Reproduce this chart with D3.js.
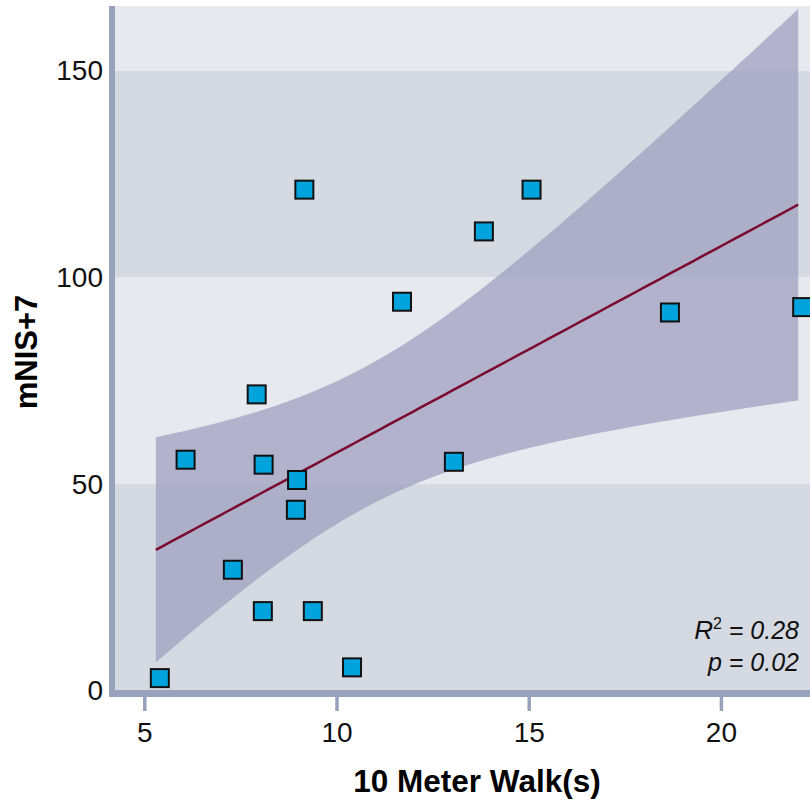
<!DOCTYPE html>
<html>
<head>
<meta charset="utf-8">
<script src="https://cdn.jsdelivr.net/npm/d3@7"></script>
<style>
  body { margin: 0; background: #fff; }
  text { font-family: "Liberation Sans", Arial, sans-serif; }
</style>
</head>
<body>
<div id="chart"></div>
<script>
// 10 meter walk time (s) vs mNIS+7
const walkTimes = [5.30, 5.97, 7.20, 7.82, 8.00, 7.98, 9.06, 8.87, 8.84, 9.28, 10.30, 11.60, 12.95, 13.73, 14.97, 18.57, 22.01];
const mnisScores = [3.1, 55.9, 29.3, 71.7, 54.7, 19.3, 121.2, 51.0, 43.8, 19.3, 5.7, 94.1, 55.4, 111.1, 121.2, 91.5, 92.8];
const xTicks = [5, 10, 15, 20];
const yTicks = [0, 50, 100, 150];
const statLines = ["R", "p = 0.02"];
const T_CRIT = 2.131; // t(0.975, df = 15)

const width = 810, height = 801;
const panel = { left: 112, right: 842, top: 6, bottom: 693 };
const axisColor = "#97a2bc";

const svg = d3.select("#chart").append("svg")
    .attr("width", width)
    .attr("height", height);

const x = d3.scaleLinear().domain([4.16, 23.15]).range([panel.left, panel.right]);
const y = d3.scaleLinear().domain([-0.5, 165.6]).range([panel.bottom, panel.top]);

svg.append("clipPath").attr("id", "clip")
    .append("rect")
    .attr("x", panel.left).attr("y", panel.top)
    .attr("width", panel.right - panel.left)
    .attr("height", panel.bottom - panel.top);

const plot = svg.append("g").attr("clip-path", "url(#clip)");

// alternating horizontal bands
const bandEdges = [y.domain()[0], ...yTicks.slice(1), y.domain()[1]];
plot.selectAll(".band")
    .data(d3.pairs(bandEdges))
    .enter().append("rect")
    .attr("class", "band")
    .attr("x", panel.left)
    .attr("width", panel.right - panel.left)
    .attr("y", d => y(d[1]))
    .attr("height", d => y(d[0]) - y(d[1]))
    .attr("fill", (d, i) => i % 2 === 0 ? "#d5d9e2" : "#e8e9ef");

// linear fit with 95% confidence band
const n = walkTimes.length;
const xbar = d3.mean(walkTimes), ybar = d3.mean(mnisScores);
let sxx = 0, sxy = 0;
walkTimes.forEach((xi, i) => {
    sxx += (xi - xbar) * (xi - xbar);
    sxy += (xi - xbar) * (mnisScores[i] - ybar);
});
const slope = sxy / sxx;
const intercept = ybar - slope * xbar;
let sse = 0;
walkTimes.forEach((xi, i) => {
    const r = mnisScores[i] - (intercept + slope * xi);
    sse += r * r;
});
const s = Math.sqrt(sse / (n - 2));

const [xmin, xmax] = d3.extent(walkTimes);
const fitPts = d3.range(0, 81).map(k => {
    const xv = xmin + (xmax - xmin) * k / 80;
    const fit = intercept + slope * xv;
    const se = s * Math.sqrt(1 / n + (xv - xbar) * (xv - xbar) / sxx);
    return { x: xv, fit: fit, lo: fit - T_CRIT * se, hi: fit + T_CRIT * se };
});

plot.append("path")
    .datum(fitPts)
    .attr("fill", "rgb(158,158,190)")
    .attr("fill-opacity", 0.73)
    .attr("d", d3.area()
        .x(d => x(d.x))
        .y0(d => y(d.lo))
        .y1(d => y(d.hi)));

plot.append("path")
    .datum(fitPts)
    .attr("fill", "none")
    .attr("stroke", "#7a0a30")
    .attr("stroke-width", 2.5)
    .attr("d", d3.line().x(d => x(d.x)).y(d => y(d.fit)));

// points (squares drawn slightly right of their value, as in the source)
const size = 18;
const nudge = 4;
svg.append("g")
    .selectAll("rect")
    .data(walkTimes)
    .enter().append("rect")
    .attr("x", (d, i) => x(d) + nudge - size / 2)
    .attr("y", (d, i) => y(mnisScores[i]) - size / 2)
    .attr("width", size)
    .attr("height", size)
    .attr("fill", "#00a3dc")
    .attr("stroke", "#111")
    .attr("stroke-width", 2);

// axes
const xAxis = svg.append("g")
    .attr("transform", `translate(0,${panel.bottom + 4})`)
    .call(d3.axisBottom(x).tickValues(xTicks).tickSize(14).tickPadding(11));
xAxis.select(".domain").remove();
xAxis.selectAll(".tick line").attr("stroke", axisColor).attr("stroke-width", 3.5);
xAxis.selectAll(".tick text")
    .attr("font-size", 28).attr("fill", "#111")
    .style("font-family", "Liberation Sans, Arial, sans-serif");

const yAxis = svg.append("g")
    .attr("transform", `translate(${panel.left - 3},0)`)
    .call(d3.axisLeft(y).tickValues(yTicks).tickSize(0).tickPadding(6));
yAxis.select(".domain").remove();
yAxis.selectAll(".tick text")
    .attr("font-size", 28).attr("fill", "#111")
    .style("font-family", "Liberation Sans, Arial, sans-serif");

svg.append("line")
    .attr("x1", panel.left).attr("x2", panel.left)
    .attr("y1", panel.top).attr("y2", panel.bottom + 3.5)
    .attr("stroke", axisColor).attr("stroke-width", 6);
svg.append("line")
    .attr("x1", panel.left - 3).attr("x2", width)
    .attr("y1", panel.bottom + 0.5).attr("y2", panel.bottom + 0.5)
    .attr("stroke", axisColor).attr("stroke-width", 7);

// titles
svg.append("text")
    .attr("x", (panel.left + panel.right) / 2)
    .attr("y", 791.5)
    .attr("text-anchor", "middle")
    .attr("font-size", 31.5)
    .attr("font-weight", "bold")
    .attr("fill", "#000")
    .text("10 Meter Walk(s)");

svg.append("text")
    .attr("transform", "translate(36.5,352) rotate(-90)")
    .attr("text-anchor", "middle")
    .attr("font-size", 31)
    .attr("font-weight", "bold")
    .attr("fill", "#000")
    .text("mNIS+7");

// fit statistics
const r2 = svg.append("text")
    .attr("x", 799).attr("y", 639)
    .attr("text-anchor", "end")
    .attr("font-size", 25)
    .attr("font-style", "italic")
    .attr("fill", "#111");
r2.append("tspan").attr("font-size", 26).text(statLines[0]);
r2.append("tspan").attr("dy", -10).attr("font-size", 16).attr("font-style", "normal").text("2");
r2.append("tspan").attr("dy", 10).text(" = 0.28");

svg.append("text")
    .attr("x", 799).attr("y", 671)
    .attr("text-anchor", "end")
    .attr("font-size", 25)
    .attr("font-style", "italic")
    .attr("fill", "#111")
    .text(statLines[1]);
</script>
</body>
</html>
